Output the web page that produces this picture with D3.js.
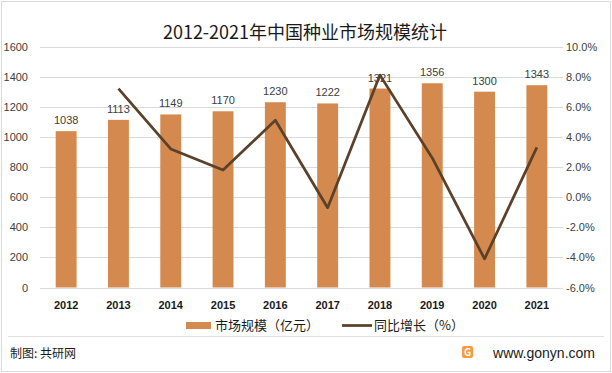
<!DOCTYPE html>
<html>
<head>
<meta charset="utf-8">
<script src="https://cdn.jsdelivr.net/npm/d3@7"></script>
<style>
  body { margin: 0; background: #fff; }
  svg { display: block; font-family: "Microsoft YaHei", "Noto Sans CJK SC", "DejaVu Sans", sans-serif; }
</style>
</head>
<body>
<script>
const years = ["2012", "2013", "2014", "2015", "2016", "2017", "2018", "2019", "2020", "2021"];
const marketSize = [1038, 1113, 1149, 1170, 1230, 1222, 1321, 1356, 1300, 1343];
const growth = [null, 7.2, 3.2, 1.8, 5.1, -0.7, 8.1, 2.6, -4.1, 3.3];
const leftTicks = [0, 200, 400, 600, 800, 1000, 1200, 1400, 1600];
const rightTicks = [-6, -4, -2, 0, 2, 4, 6, 8, 10];

const W = 612;
const H = 373;
const BAR_COLOR = "#d48a4e";
const LINE_COLOR = "#5c412a";
const TEXT = "#404040";

const svg = d3.select("body").append("svg").attr("width", W).attr("height", H);

// outer frame
svg.append("rect")
  .attr("x", 1.5).attr("y", 1.5)
  .attr("width", W - 3).attr("height", H - 3)
  .attr("fill", "#fff").attr("stroke", "#d9d9d9");

const x = d3.scaleBand().domain(years).range([40, 563]).paddingInner(0.6).paddingOuter(0.3);
const yL = d3.scaleLinear().domain([0, 1600]).range([287.5, 46.5]);
const yR = d3.scaleLinear().domain([-6, 10]).range([287.5, 46.5]);

// title
svg.append("text")
  .attr("x", 305).attr("y", 39)
  .attr("text-anchor", "middle")
  .attr("font-size", 18)
  .attr("fill", "#1a1a1a")
  .text("2012-2021年中国种业市场规模统计");

// gridlines
svg.append("g")
  .selectAll("line")
  .data(leftTicks)
  .join("line")
  .attr("x1", 40).attr("x2", 563)
  .attr("y1", (d) => Math.round(yL(d)) + 0.5)
  .attr("y2", (d) => Math.round(yL(d)) + 0.5)
  .attr("stroke", "#d9d9d9");

// left axis
const axisL = svg.append("g")
  .attr("transform", "translate(40,0)")
  .call(d3.axisLeft(yL).tickValues(leftTicks).tickSize(0).tickPadding(12).tickFormat(d3.format("d")));
axisL.select(".domain").remove();
axisL.selectAll("text").attr("font-size", 11).attr("fill", TEXT).attr("font-family", "Liberation Sans, Arial, sans-serif");

// right axis
const axisR = svg.append("g")
  .attr("transform", "translate(563,0)")
  .call(d3.axisRight(yR).tickValues(rightTicks).tickSize(0).tickPadding(3)
    .tickFormat((d) => d.toFixed(1) + "%"));
axisR.select(".domain").remove();
axisR.selectAll("text").attr("font-size", 11).attr("fill", TEXT).attr("font-family", "Liberation Sans, Arial, sans-serif");

// bars
svg.append("g")
  .selectAll("rect")
  .data(years)
  .join("rect")
  .attr("x", (d) => x(d))
  .attr("width", x.bandwidth())
  .attr("y", (d, i) => yL(marketSize[i]))
  .attr("height", (d, i) => yL(0) - yL(marketSize[i]))
  .attr("fill", BAR_COLOR);

// bar labels
svg.append("g")
  .selectAll("text")
  .data(years)
  .join("text")
  .attr("x", (d) => x(d) + x.bandwidth() / 2)
  .attr("y", (d, i) => yL(marketSize[i]) - 7)
  .attr("text-anchor", "middle")
  .attr("font-size", 11)
  .attr("font-family", "Liberation Sans, Arial, sans-serif")
  .attr("fill", TEXT)
  .text((d, i) => marketSize[i]);

// x labels
svg.append("g")
  .selectAll("text")
  .data(years)
  .join("text")
  .attr("x", (d) => x(d) + x.bandwidth() / 2)
  .attr("y", 309)
  .attr("text-anchor", "middle")
  .attr("font-size", 11)
  .attr("font-weight", "bold")
  .attr("font-family", "Liberation Sans, Arial, sans-serif")
  .attr("fill", "#1a1a1a")
  .text((d) => d);

// growth line
const pts = years.map((d, i) => ({ year: d, v: growth[i] })).filter((p) => p.v !== null);
const line = d3.line()
  .x((p) => x(p.year) + x.bandwidth() / 2)
  .y((p) => yR(p.v));
svg.append("path")
  .datum(pts)
  .attr("d", line)
  .attr("fill", "none")
  .attr("stroke", LINE_COLOR)
  .attr("stroke-width", 2.75)
  .attr("stroke-linejoin", "round");

// legend
const legend = svg.append("g").attr("font-size", 13).attr("fill", "#1a1a1a");
legend.append("rect").attr("x", 186).attr("y", 322).attr("width", 25).attr("height", 7).attr("fill", BAR_COLOR);
legend.append("text").attr("x", 215).attr("y", 330).text("市场规模（亿元）");
legend.append("line").attr("x1", 342).attr("x2", 372).attr("y1", 325.5).attr("y2", 325.5)
  .attr("stroke", LINE_COLOR).attr("stroke-width", 2.75);
legend.append("text").attr("x", 374).attr("y", 330).text("同比增长（%）");

// footer
svg.append("line").attr("x1", 8).attr("x2", 604).attr("y1", 336.5).attr("y2", 336.5).attr("stroke", "#e0e0e0");
svg.append("text").attr("x", 10).attr("y", 358).attr("font-size", 12).attr("fill", "#1a1a1a").text("制图: 共研网");

const logo = svg.append("g").attr("transform", "translate(462,346)");
logo.append("rect").attr("width", 11).attr("height", 12).attr("rx", 2).attr("fill", "#f59a45");
logo.append("text").attr("x", 5.5).attr("y", 10).attr("text-anchor", "middle")
  .attr("font-size", 10).attr("font-weight", "bold").attr("fill", "#fff").text("G");
svg.append("text").attr("x", 595).attr("y", 358).attr("text-anchor", "end")
  .attr("font-size", 14).attr("fill", "#1a1a1a").attr("font-family", "Liberation Sans, Arial, sans-serif")
  .text("www.gonyn.com");
</script>
</body>
</html>
